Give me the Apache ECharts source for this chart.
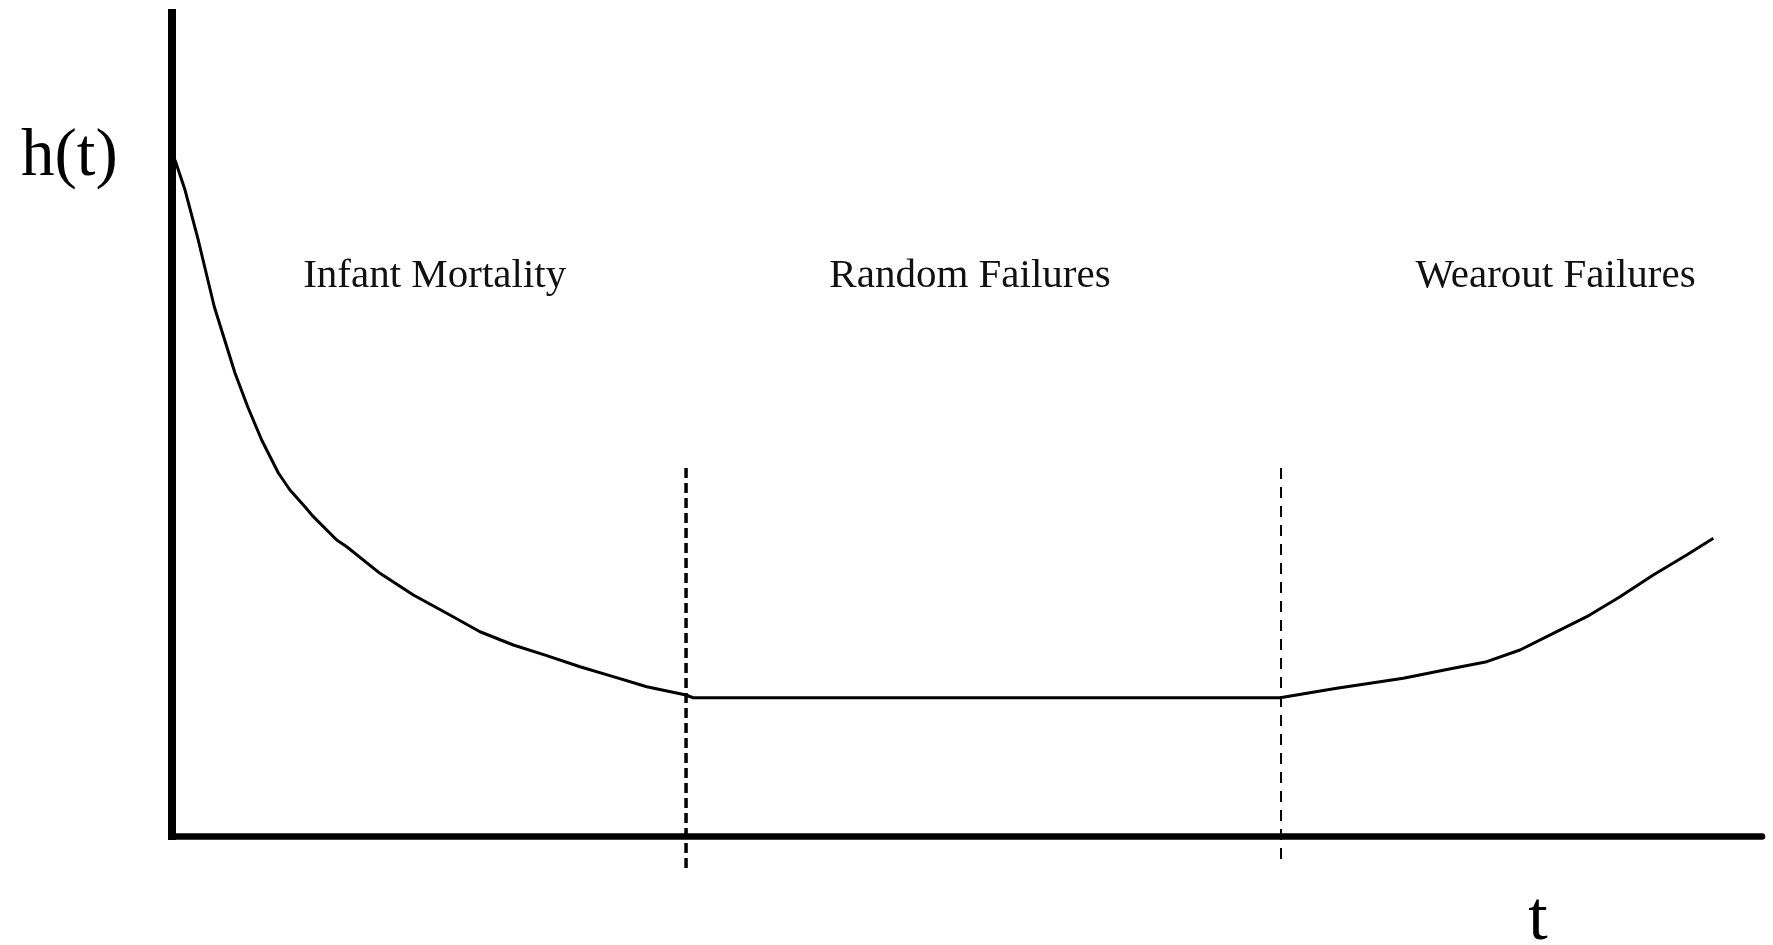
<!DOCTYPE html>
<html>
<head>
<meta charset="utf-8">
<script src="https://cdn.jsdelivr.net/npm/echarts@6/dist/echarts.min.js"></script>
<style>
html,body{margin:0;padding:0;background:#fff;}
#chart{width:1773px;height:945px;}
</style>
</head>
<body>
<div id="chart"></div>
<script>
// Bathtub hazard curve h(t), t and h on a 0–100 scale
var curveT = [0.19,0.82,1.65,2.66,3.96,4.76,5.64,6.69,7.42,8.36,8.89,10.36,10.99,13.08,15.18,17.28,19.37,21.47,23.57,25.66,27.75,29.86,32.33,32.77,69.69,73.25,77.44,80.58,82.69,84.78,86.87,88.98,91.07,93.16,95.26,96.94];
var curveH = [82.14,78.49,72.42,64.31,56.26,52.16,48.12,44.11,42.04,40.01,38.80,35.97,35.15,31.92,29.28,27.06,24.82,23.21,21.91,20.57,19.36,18.14,17.13,16.80,16.80,17.95,19.16,20.38,21.18,22.60,24.63,26.65,29.08,31.71,34.14,36.17];
// region boundaries (dashed lines)
var boundaryT = [32.33, 69.75];
var boundaryTop = [44.71, 44.71];
var boundaryBottom = [-4.13, -3.28];
var regionNames = ['Infant Mortality', 'Random Failures', 'Wearout Failures'];
var yAxisTitle = 'h(t)';
var xAxisTitle = 't';

var curveData = curveT.map(function (t, i) { return [t, curveH[i]]; });
function boundary(i) { return [[boundaryT[i], boundaryTop[i]], [boundaryT[i], boundaryBottom[i]]]; }

var chart = echarts.init(document.getElementById('chart'));
var serif = '"Liberation Serif", "Times New Roman", serif';
chart.setOption({
  animation: false,
  backgroundColor: '#ffffff',
  grid: { left: 172, right: 11, top: 13, bottom: 109, containLabel: false },
  xAxis: {
    type: 'value', min: 0, max: 100,
    axisLine: { show: true, onZero: false, lineStyle: { color: '#000', width: 6.5 } },
    axisTick: { show: false }, axisLabel: { show: false }, splitLine: { show: false }
  },
  yAxis: {
    type: 'value', min: 0, max: 100,
    axisLine: { show: true, onZero: false, lineStyle: { color: '#000', width: 8, cap: 'square' } },
    axisTick: { show: false }, axisLabel: { show: false }, splitLine: { show: false }
  },
  series: [
    {
      type: 'line', data: curveData, showSymbol: false, symbol: 'none',
      smooth: false,
      lineStyle: { color: '#000', width: 3, join: 'round' }, z: 3
    },
    {
      type: 'line', data: boundary(0), symbol: 'none', clip: false,
      lineStyle: { color: '#000', width: 3.5, type: [10, 5] }, z: 4
    },
    {
      type: 'line', data: boundary(1), symbol: 'none', clip: false,
      lineStyle: { color: '#000', width: 2, type: [11, 8] }, z: 4
    }
  ],
  graphic: [
    { type: 'text', left: 21, top: 124, style: { text: yAxisTitle, font: '67px ' + serif, fill: '#000' } },
    { type: 'text', x: 1538, y: 921, style: { text: xAxisTitle, font: '70px ' + serif, fill: '#000', align: 'center', verticalAlign: 'middle' } },
    { type: 'text', x: 434.7, y: 276, style: { text: regionNames[0], font: '41px ' + serif, fill: '#111', align: 'center', verticalAlign: 'middle' } },
    { type: 'text', x: 970, y: 276, style: { text: regionNames[1], font: '41px ' + serif, fill: '#111', align: 'center', verticalAlign: 'middle' } },
    { type: 'text', x: 1555.5, y: 276, style: { text: regionNames[2], font: '41px ' + serif, fill: '#111', align: 'center', verticalAlign: 'middle' } }
  ]
});
</script>
</body>
</html>
